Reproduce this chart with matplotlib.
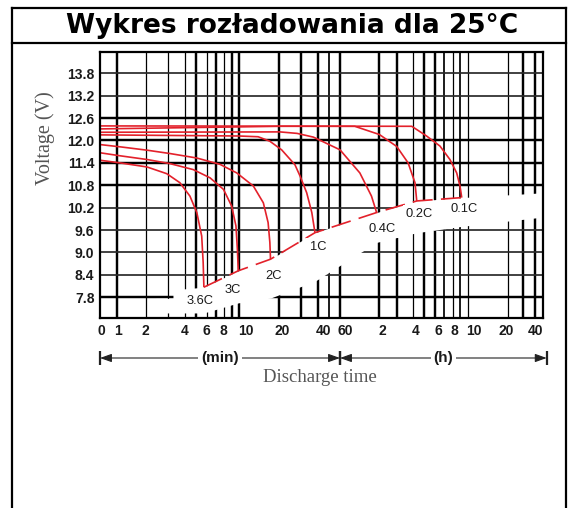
import numpy as np
import matplotlib
matplotlib.use("Agg")
import matplotlib.pyplot as plt
from matplotlib import transforms
from matplotlib.lines import Line2D

# ---------------- data (time in minutes, voltage in V) ----------------
rates = ["3.6C", "3C", "2C", "1C", "0.4C", "0.2C", "0.1C"]
t_36 = [0.66, 1.07, 2.05, 2.92, 3.66, 4.42, 5.07, 5.51, 5.65, 5.72]
v_36 = [11.47, 11.40, 11.29, 11.11, 10.87, 10.51, 10.07, 9.44, 8.73, 8.07]
t_3 = [0.66, 1.07, 2.05, 3.09, 4.73, 6.35, 7.9, 9.0, 9.57, 9.77, 9.9]
v_3 = [11.67, 11.59, 11.49, 11.38, 11.22, 11.00, 10.69, 10.24, 9.71, 9.09, 8.51]
t_2 = [0.66, 1.07, 2.05, 3.09, 5.07, 7.49, 9.69, 12.8, 15.2, 16.5, 17.0, 17.2]
v_2 = [11.89, 11.83, 11.74, 11.65, 11.53, 11.36, 11.13, 10.78, 10.33, 9.80, 9.27, 8.82]
t_1 = [0.66, 10, 13.9, 17, 20.9, 26.9, 29.7, 33.2, 36.2, 38.2]
v_1 = [12.15, 12.12, 12.10, 11.98, 11.75, 11.35, 11.04, 10.60, 10.07, 9.53]
t_04 = [0.66, 20.2, 28, 37.2, 60, 85.4, 105, 115]
v_04 = [12.22, 12.23, 12.19, 12.09, 11.75, 11.13, 10.51, 10.07]
t_02 = [0.66, 20, 78, 121, 180, 221, 251, 260]
v_02 = [12.31, 12.38, 12.38, 12.16, 11.84, 11.40, 10.87, 10.38]
t_01 = [0.66, 236, 313, 392, 460, 512, 540, 553]
v_01 = [12.39, 12.38, 12.12, 11.85, 11.49, 11.13, 10.78, 10.47]
curves_t = [t_36, t_3, t_2, t_1, t_04, t_02, t_01]
curves_v = [v_36, v_3, v_2, v_1, v_04, v_02, v_01]

y_ticks = [7.8, 8.4, 9.0, 9.6, 10.2, 10.8, 11.4, 12.0, 12.6, 13.2, 13.8]
x_grid = [1, 2, 3, 4, 5, 6, 7, 8, 9, 10, 20, 30, 40, 50, 60,
          120, 180, 240, 300, 360, 420, 480, 540, 600, 1200, 1800, 2400]
x_tick_vals = [1, 2, 4, 6, 8, 10, 20, 40, 60, 120, 240, 360, 480, 600, 1200, 2400]
x_tick_labels = ["1", "2", "4", "6", "8", "10", "20", "40", "60",
                 "2", "4", "6", "8", "10", "20", "40"]

# ---------------- the chart's own (distorted log) time scale ----------------
_AT = np.log10(np.array([1, 2, 3, 4, 5, 6, 7, 8, 9, 10, 20, 30, 40, 50, 60, 120, 180,
                         240, 300, 360, 420, 480, 540, 600, 1200, 1800, 2400], float))
_AP = np.array([117.3, 145.7, 168.3, 185, 196, 206.7, 215.7, 224.3, 231.7, 239, 279.3,
                300.7, 317.7, 329.3, 340, 379, 396.7, 412.7, 424, 435, 444, 452.7, 460,
                467.7, 507.7, 523.3, 535])


def _pw(x, xs, ys):
    x = np.asarray(x, float)
    y = np.interp(x, xs, ys)
    s0 = (ys[1] - ys[0]) / (xs[1] - xs[0])
    s1 = (ys[-1] - ys[-2]) / (xs[-1] - xs[-2])
    y = np.where(x < xs[0], ys[0] + (x - xs[0]) * s0, y)
    y = np.where(x > xs[-1], ys[-1] + (x - xs[-1]) * s1, y)
    return y


def fwd(t):
    t = np.clip(np.asarray(t, float), 1e-6, None)
    return _pw(np.log10(t), _AT, _AP)


def inv(p):
    return 10 ** _pw(p, _AP, _AT)


W, H = 576, 508
fig = plt.figure(figsize=(W / 100, H / 100), dpi=100)
ax = fig.add_axes([100 / W, 1 - 318 / H, (543.3 - 100) / W, (318 - 52) / H])
ax.set_xscale("function", functions=(fwd, inv))
xmin, xmax = float(inv(100.0)), float(inv(543.3))
ax.set_xlim(xmin, xmax)
ax.set_ylim(7.245, 14.37)

# grid
vw = ["T", "t", "t", "t", "T", "t", "T", "t", "T", "T", "T", "T", "T", "m", "T",
      "T", "T", "t", "T", "T", "m", "t", "m", "t", "t", "T", "T"]
lw_map = {"T": 1.75, "m": 1.25, "t": 0.9}
for xv, w in zip(x_grid, vw):
    ax.axvline(xv, color="black", lw=lw_map[w], zorder=1)
hw = ["T", "m", "m", "m", "m", "T", "T", "T", "T", "m", "m"]
for yv, w in zip(y_ticks, hw):
    ax.axhline(yv, color="black" if w == "T" else "#2a2a2a", lw=lw_map[w], zorder=1)

red = "#e3212b"
end_t = np.array([c[-1] for c in curves_t])
end_v = np.array([c[-1] for c in curves_v])

# white band under the end-voltage line (masks the grid like the original)
band_t = np.concatenate([[2.4, 3.25, 3.25], end_t, [xmax]])
band_top = np.concatenate([[7.77, 7.77, 8.0], end_v, [10.6]])
band_depth = np.array([0.75, 0.75, 0.75, 0.86, 0.86, 1.04, 1.3, 0.8, 0.85, 0.77, 0.65])
band_bot = np.maximum(band_top - band_depth, 7.38)
ax.fill_between(band_t, band_bot, band_top, color="white", lw=0, zorder=2)

for tt, vv in zip(curves_t, curves_v):
    ax.plot(tt, vv, color=red, lw=1.2, zorder=3, solid_capstyle="butt")
cut, = ax.plot(end_t, end_v, color=red, lw=1.2, zorder=3)
cut.set_dashes([12, 5])

# rate labels
offs = [(-3, -10), (-4, -14), (2, -12), (2, -10.5), (4, -12), (2, -9.5), (2, -8)]
for r, et, ev, (dx, dy) in zip(rates, end_t, end_v, offs):
    ax.annotate(r, xy=(et, ev), xytext=(dx, dy), textcoords="offset points",
                ha="center", va="center", fontsize=9.3, color="#1a1a1a",
                family="Liberation Sans", zorder=4,
                bbox=dict(fc="white", ec="none", pad=2.2))

# axes / ticks
ax.set_yticks(y_ticks)
ax.set_yticklabels([f"{v:.1f}" for v in y_ticks])
ax.set_xticks([xmin] + x_tick_vals)
ax.set_xticklabels(["0"] + x_tick_labels)
ax.xaxis.set_minor_locator(matplotlib.ticker.NullLocator())
ax.yaxis.set_minor_locator(matplotlib.ticker.NullLocator())
ax.tick_params(length=0, labelsize=10, labelcolor="#1a1a1a", pad=4)
for lab in ax.get_xticklabels() + ax.get_yticklabels():
    lab.set_family("Liberation Sans")
    lab.set_fontweight("bold")
# small horizontal nudges of x labels (px), as laid out in the original
nudges = [1, 1, 0, 0, 0, -1, 7, 3, 6, 5, 3, 3, 3, 2, 6, -2, 0]
for lab, dxp in zip(ax.get_xticklabels(), nudges):
    lab.set_transform(lab.get_transform() +
                      transforms.ScaledTranslation(dxp / 100, 0, fig.dpi_scale_trans))
for sp in ax.spines.values():
    sp.set_linewidth(1.6)
    sp.set_zorder(5)

# min / h arrows
tr = transforms.blended_transform_factory(ax.transData, fig.transFigure)
ya = 1 - 358 / H
t_right = float(inv(546.7))
for a, b, txt in [(xmin, 60, "(min)"), (60, t_right, "(h)")]:
    ax.annotate("", xy=(a, ya), xytext=(b, ya), xycoords=tr, textcoords=tr,
                arrowprops=dict(arrowstyle="<|-|>,head_length=0.7,head_width=0.25",
                                color="#222222", lw=0.8, shrinkA=0, shrinkB=0),
                annotation_clip=False)
    ax.plot([a, b], [ya, ya], ls="none", marker="|", ms=10, mew=1.6,
            color="#222222", transform=tr, clip_on=False)
    tm = float(inv((fwd(a) + fwd(b)) / 2))
    ax.text(tm, ya, txt, transform=tr, ha="center", va="center", fontsize=11,
            fontweight="bold", family="Liberation Sans", color="#1a1a1a",
            bbox=dict(fc="white", ec="none", pad=2), zorder=6)

fig.text(320 / W, 1 - 378 / H, "Discharge time", ha="center", va="center",
         family="Liberation Serif", fontsize=13.5, color="#555555")
fig.text(45 / W, 1 - 138 / H, "Voltage (V)", ha="center", va="center", rotation=90,
         family="Liberation Serif", fontsize=14.5, color="#555555")

# outer frame and title
fl = dict(transform=fig.transFigure, color="black", lw=1.6)
fig.add_artist(Line2D([12 / W, 12 / W], [0, 1 - 8 / H], **fl))
fig.add_artist(Line2D([566 / W, 566 / W], [0, 1 - 8 / H], **fl))
fig.add_artist(Line2D([12 / W, 566 / W], [1 - 8 / H, 1 - 8 / H], **fl))
fig.add_artist(Line2D([12 / W, 566 / W], [1 - 43 / H, 1 - 43 / H], **fl))
fig.text(292 / W, 1 - 26 / H, "Wykres rozładowania dla 25°C", ha="center", va="center",
         fontsize=19, fontweight="bold", family="DejaVu Sans")

fig.savefig("out.png", dpi=100)
